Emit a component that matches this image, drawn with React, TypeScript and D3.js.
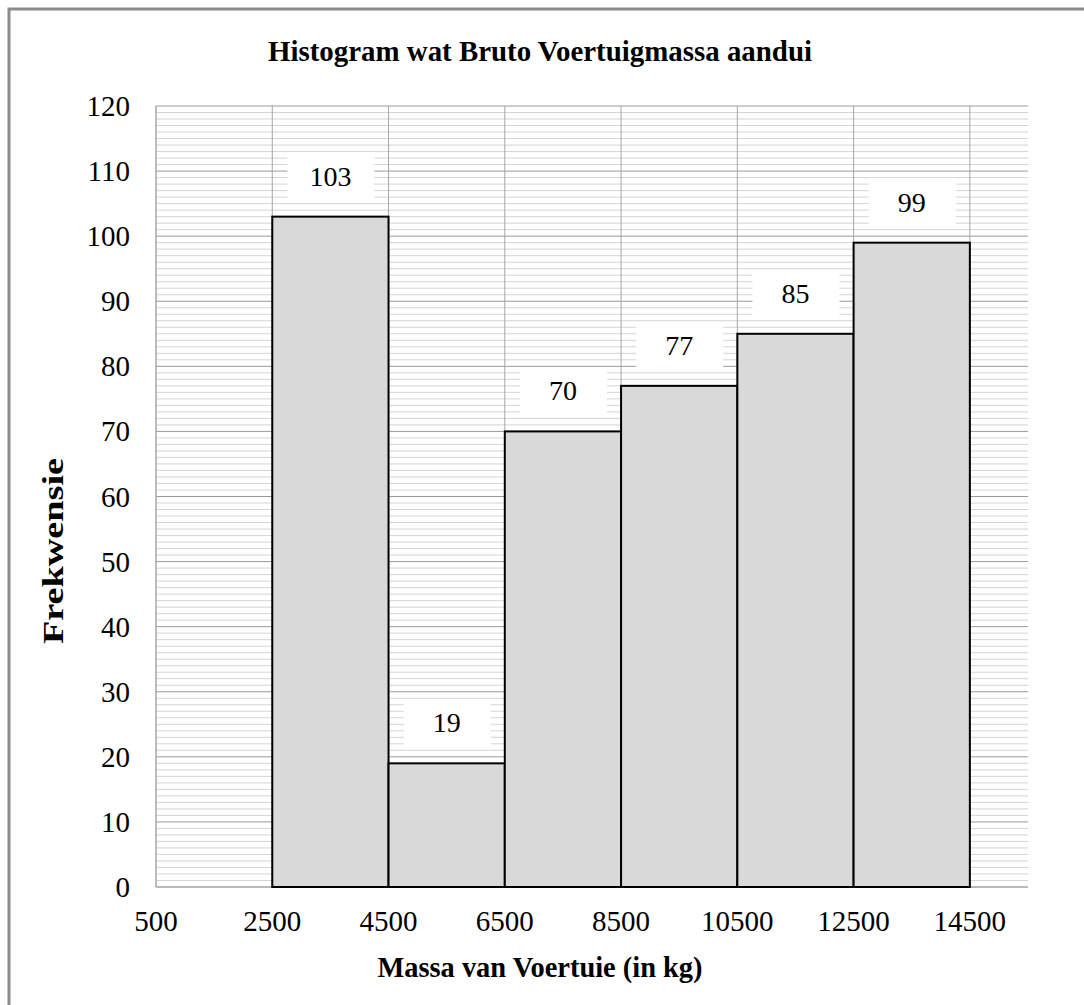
import * as React from 'react';
import * as d3 from 'd3';

const WIDTH = 1084;
const HEIGHT = 1005;

// histogram bins (kg) and counts
const binStarts = [2500, 4500, 6500, 8500, 10500, 12500];
const binEnds = [4500, 6500, 8500, 10500, 12500, 14500];
const counts = [103, 19, 70, 77, 85, 99];
const xTicks = [500, 2500, 4500, 6500, 8500, 10500, 12500, 14500];
const yTicks = [0, 10, 20, 30, 40, 50, 60, 70, 80, 90, 100, 110, 120];

const margin = { left: 156, right: 1028, top: 106, bottom: 887 };
const FONT = '"Liberation Serif", "Times New Roman", serif';

const App = () => {
  const x = d3.scaleLinear().domain([500, 15500]).range([margin.left, margin.right]);
  const y = d3.scaleLinear().domain([0, 120]).range([margin.bottom, margin.top]);

  const minor = d3.range(0, 121, 1);
  const bins = binStarts.map((s, i) => ({ x0: s, x1: binEnds[i], n: counts[i] }));

  return (
    <svg
      width={WIDTH}
      height={HEIGHT}
      style={{ position: 'absolute', left: 0, top: 0, background: '#fff' }}
      fontFamily={FONT}
    >
      <rect x={9} y={9} width={1200} height={1200} fill="none" stroke="#8c8c8c" strokeWidth={3} />

      <text x={540} y={61} textAnchor="middle" fontSize={29} fontWeight="bold" textLength={544} lengthAdjust="spacingAndGlyphs">
        Histogram wat Bruto Voertuigmassa aandui
      </text>

      {/* grid */}
      <g>
        {minor.map(v => (
          <line
            key={'m' + v}
            x1={margin.left}
            x2={margin.right}
            y1={y(v)}
            y2={y(v)}
            stroke={v % 10 === 0 ? '#9a9a9a' : '#d4d4d4'}
            strokeWidth={1}
          />
        ))}
        {xTicks.map(v => (
          <line key={'v' + v} x1={x(v)} x2={x(v)} y1={margin.top} y2={margin.bottom} stroke="#a6a6a6" strokeWidth={1} />
        ))}
        <line x1={margin.left} x2={margin.left} y1={margin.top} y2={margin.bottom} stroke="#a6a6a6" />
        <line x1={margin.left} x2={margin.right} y1={margin.bottom} y2={margin.bottom} stroke="#a6a6a6" />
      </g>

      {/* bars */}
      <g>
        {bins.map((b, i) => (
          <rect
            key={i}
            x={x(b.x0)}
            y={y(b.n)}
            width={x(b.x1) - x(b.x0)}
            height={y(0) - y(b.n)}
            fill="#d9d9d9"
            stroke="#000"
            strokeWidth={2}
          />
        ))}
      </g>

      {/* value labels */}
      <g>
        {bins.map((b, i) => {
          const cx = x((b.x0 + b.x1) / 2);
          const bottom = y(b.n) - 18;
          return (
            <g key={i}>
              <rect x={cx - 43} y={bottom - 46} width={87} height={46} fill="#fff" />
              <text x={cx} y={bottom - 13} textAnchor="middle" fontSize={28}>
                {b.n}
              </text>
            </g>
          );
        })}
      </g>

      {/* axes labels */}
      <g fontSize={29}>
        {yTicks.map(v => (
          <text key={v} x={130} y={y(v) + 10} textAnchor="end">
            {v}
          </text>
        ))}
        {xTicks.map(v => (
          <text key={v} x={x(v)} y={931} textAnchor="middle">
            {v}
          </text>
        ))}
      </g>

      <text x={540} y={977} textAnchor="middle" fontSize={29} fontWeight="bold" textLength={325} lengthAdjust="spacingAndGlyphs">
        Massa van Voertuie (in kg)
      </text>
      <text
        transform={`translate(63,551) rotate(-90)`}
        textAnchor="middle"
        fontSize={29}
        fontWeight="bold"
        textLength={186}
        lengthAdjust="spacingAndGlyphs"
      >
        Frekwensie
      </text>
    </svg>
  );
};

export default App;
